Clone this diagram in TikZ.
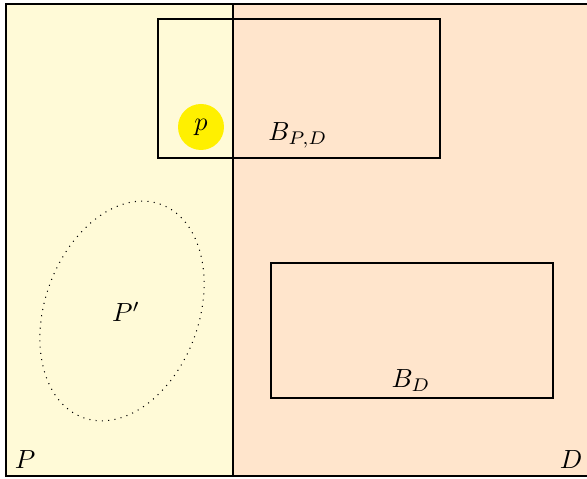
\documentclass[tikz,border=0pt]{standalone}
\usetikzlibrary{shapes.geometric}
\definecolor{pfill}{RGB}{255,250,215}
\definecolor{dfill}{RGB}{255,229,204}
\definecolor{pdot}{RGB}{255,240,0}
\begin{document}
\begin{tikzpicture}[x=0.67cm,y=0.67cm]
			\useasboundingbox (0,0) rectangle (11.74,9.58);
			\clip (0,0) rectangle (11.74,9.58);
			\fill[pfill] (0.12,0.06) rectangle (4.66,9.5);
			\fill[dfill] (4.66,0.06) rectangle (11.9,9.5);
			\draw (0.12,0.06) rectangle (11.9,9.5);
			\draw (4.66,0.06) -- (4.66,9.5);
			\draw (3.16,6.42) rectangle (8.8,9.2);
			\draw (5.42,1.62) rectangle (11.06,4.32);
			\draw[dotted] (2.44,3.36) ellipse [x radius=1.54, y radius=2.27, rotate=-20];
			\node[circle,fill=pdot,minimum size=0.92*0.67cm,inner sep=0pt] (p) at (4.02,7.04) {$p$};
			\node (bpd) at (5.96,6.88) {$B_{P,D}$};
			\node (bd) at (8.22,1.96) {$B_D$};
			\node (pp) at (2.52,3.34) {$P'$};
			\node (lp) at (0.5,0.38) {$P$};
			\node (ld) at (11.42,0.38) {$D$};
		\end{tikzpicture}
\end{document}
